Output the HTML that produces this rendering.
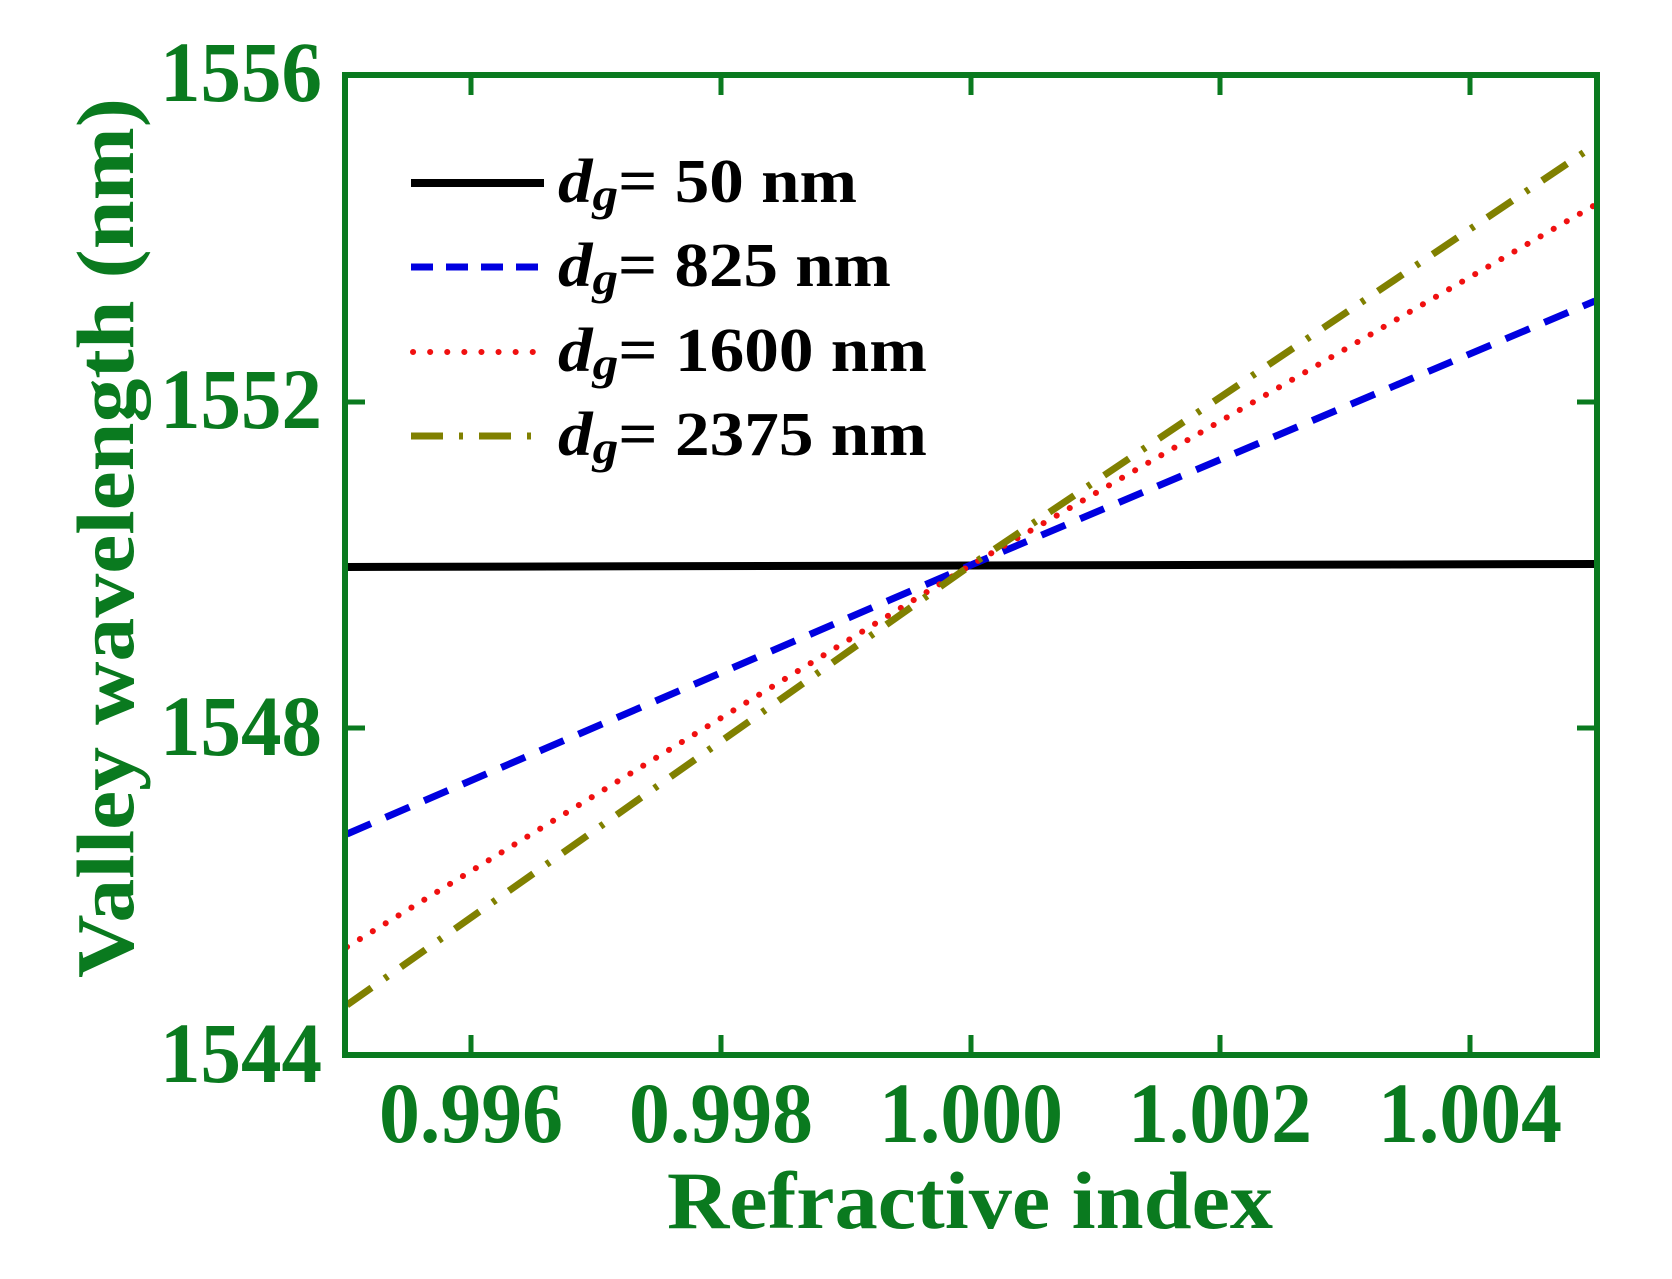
<!DOCTYPE html>
<html><head><meta charset="utf-8"><style>
html,body{margin:0;padding:0;background:#fff;}
svg{display:block;}
</style></head><body>
<svg width="1672" height="1279" viewBox="0 0 1672 1279" xmlns="http://www.w3.org/2000/svg">
<g font-family="Liberation Serif, serif" font-weight="bold" fill="#0a7a1f">
  <text x="322" y="101" text-anchor="end" font-size="86" textLength="162" lengthAdjust="spacingAndGlyphs">1556</text>
  <text x="322" y="428" text-anchor="end" font-size="86" textLength="162" lengthAdjust="spacingAndGlyphs">1552</text>
  <text x="322" y="755" text-anchor="end" font-size="86" textLength="162" lengthAdjust="spacingAndGlyphs">1548</text>
  <text x="322" y="1082" text-anchor="end" font-size="86" textLength="162" lengthAdjust="spacingAndGlyphs">1544</text>
  <text x="471" y="1142" text-anchor="middle" font-size="86" textLength="184" lengthAdjust="spacingAndGlyphs">0.996</text>
  <text x="721" y="1142" text-anchor="middle" font-size="86" textLength="184" lengthAdjust="spacingAndGlyphs">0.998</text>
  <text x="971" y="1142" text-anchor="middle" font-size="86" textLength="184" lengthAdjust="spacingAndGlyphs">1.000</text>
  <text x="1220" y="1142" text-anchor="middle" font-size="86" textLength="184" lengthAdjust="spacingAndGlyphs">1.002</text>
  <text x="1470" y="1142" text-anchor="middle" font-size="86" textLength="184" lengthAdjust="spacingAndGlyphs">1.004</text>
  <text x="970" y="1228" text-anchor="middle" font-size="82" textLength="606" lengthAdjust="spacingAndGlyphs">Refractive index</text>
  <text transform="translate(133,538) rotate(-90)" x="0" y="0" text-anchor="middle" font-size="82" textLength="880" lengthAdjust="spacingAndGlyphs">Valley wavelength (nm)</text>
</g>
<g stroke="#0a7a1f" stroke-width="5">
  <line x1="471" y1="1055" x2="471" y2="1035"/><line x1="721" y1="1055" x2="721" y2="1035"/><line x1="971" y1="1055" x2="971" y2="1035"/><line x1="1220" y1="1055" x2="1220" y2="1035"/><line x1="1470" y1="1055" x2="1470" y2="1035"/>
  <line x1="471" y1="75" x2="471" y2="95"/><line x1="721" y1="75" x2="721" y2="95"/><line x1="971" y1="75" x2="971" y2="95"/><line x1="1220" y1="75" x2="1220" y2="95"/><line x1="1470" y1="75" x2="1470" y2="95"/>
  <line x1="345" y1="402" x2="365" y2="402"/><line x1="345" y1="728" x2="365" y2="728"/>
  <line x1="1597" y1="402" x2="1577" y2="402"/><line x1="1597" y1="728" x2="1577" y2="728"/>
</g>
<g fill="none">
  <line x1="347" y1="567" x2="1595" y2="564" stroke="#000" stroke-width="8"/>
  <polyline points="347,834 971,565 1595,301" stroke="#0000e0" stroke-width="7" stroke-dasharray="26,16"/>
  <polyline points="347,947 971,565 1595,205" stroke="#f01010" stroke-width="6" stroke-dasharray="0.1,15" stroke-linecap="round"/>
  <polyline points="347,1005 971,565 1595,145" stroke="#808000" stroke-width="7" stroke-dasharray="30,16,4,16"/>
</g>
<rect x="345" y="75" width="1252" height="980" fill="none" stroke="#0a7a1f" stroke-width="6"/>
<g>
  <line x1="411" y1="183" x2="544" y2="183" stroke="#000" stroke-width="8"/>
  <line x1="411" y1="267" x2="544" y2="267" stroke="#0000e0" stroke-width="7" stroke-dasharray="22,13"/>
  <line x1="413" y1="352" x2="544" y2="352" stroke="#f01010" stroke-width="6" stroke-dasharray="0.1,17" stroke-linecap="round"/>
  <line x1="411" y1="436" x2="544" y2="436" stroke="#808000" stroke-width="7" stroke-dasharray="32,16,4,16"/>
</g>
<g font-family="Liberation Serif, serif" font-weight="bold" fill="#000" font-size="62">
  <text x="558" y="202" textLength="299" lengthAdjust="spacingAndGlyphs"><tspan font-style="italic">d</tspan><tspan font-style="italic" font-size="46" dy="8">g</tspan><tspan dy="-8">= 50 nm</tspan></text>
  <text x="558" y="286" textLength="333" lengthAdjust="spacingAndGlyphs"><tspan font-style="italic">d</tspan><tspan font-style="italic" font-size="46" dy="8">g</tspan><tspan dy="-8">= 825 nm</tspan></text>
  <text x="558" y="371" textLength="369" lengthAdjust="spacingAndGlyphs"><tspan font-style="italic">d</tspan><tspan font-style="italic" font-size="46" dy="8">g</tspan><tspan dy="-8">= 1600 nm</tspan></text>
  <text x="558" y="455" textLength="369" lengthAdjust="spacingAndGlyphs"><tspan font-style="italic">d</tspan><tspan font-style="italic" font-size="46" dy="8">g</tspan><tspan dy="-8">= 2375 nm</tspan></text>
</g>
</svg>
</body></html>
